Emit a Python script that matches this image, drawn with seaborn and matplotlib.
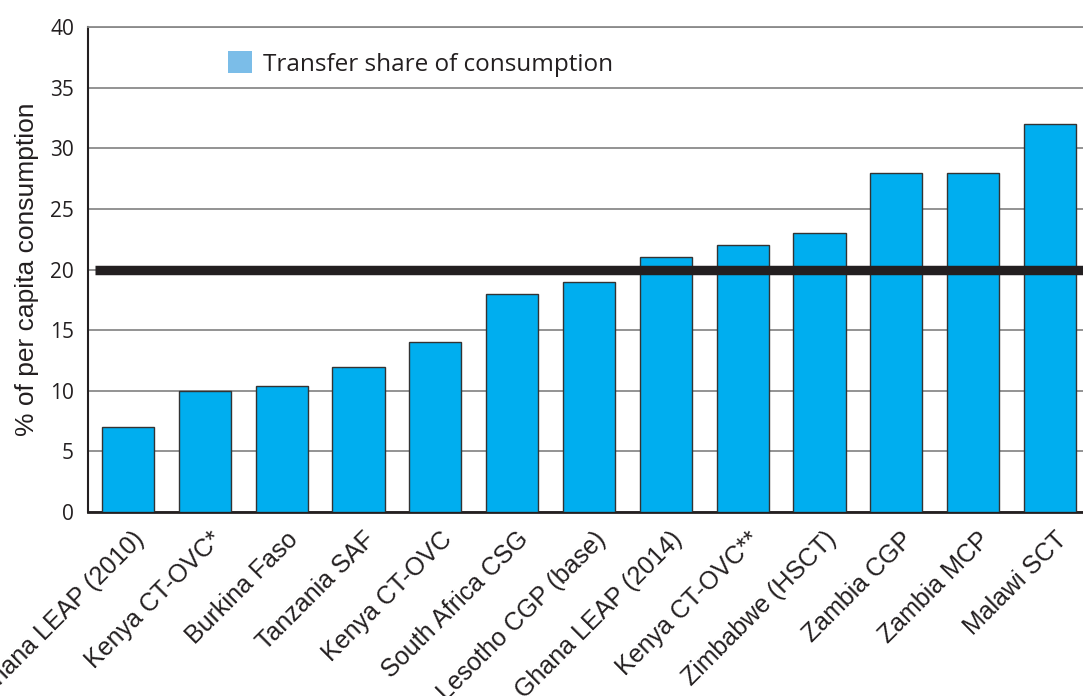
import numpy as np
import pandas as pd
import matplotlib
matplotlib.use('Agg')
import matplotlib.pyplot as plt
import matplotlib.transforms as mtransforms
import seaborn as sns
from matplotlib.patches import Patch

programmes = ['Ghana LEAP (2010)', 'Kenya CT-OVC*', 'Burkina Faso', 'Tanzania SAF',
              'Kenya CT-OVC', 'South Africa CSG', 'Lesotho CGP (base)', 'Ghana LEAP (2014)',
              'Kenya CT-OVC**', 'Zimbabwe (HSCT)', 'Zambia CGP', 'Zambia MCP', 'Malawi SCT']
transfer_share = [7, 10, 10.4, 12, 14, 18, 19, 21, 22, 23, 28, 28, 32]
benchmark = 20
y_ticks = [0, 5, 10, 15, 20, 25, 30, 35, 40]

df = pd.DataFrame({'programme': programmes, 'share': transfer_share})

sns.set_style('white')
plt.rcParams['font.family'] = ['Liberation Sans', 'DejaVu Sans']

fig = plt.figure(figsize=(10.83, 6.96), dpi=100)
ax = fig.add_axes([88 / 1083, 1 - 512 / 696, 1002 / 1083, 485 / 696])

sns.barplot(data=df, x='programme', y='share', color='#00aeef', saturation=1,
            width=0.68, edgecolor='#333333', linewidth=1.0, ax=ax, zorder=3)

ax.axhline(benchmark, xmin=0.007, xmax=1, color='#231f20', lw=6.8,
           solid_capstyle='butt', zorder=4)

ax.set_ylim(0, 40)
ax.set_xlim(-0.52, 12.52)
ax.set_yticks(y_ticks)
ax.yaxis.grid(True, color='#8a8a8a', lw=1.3, zorder=0)
ax.set_axisbelow(True)
for lbl in ax.get_yticklabels():
    lbl.set_family(['Open Sans', 'DejaVu Sans'])
ax.tick_params(axis='y', length=0, labelsize=15, pad=10, labelcolor='#231f20')
ax.tick_params(axis='x', length=0, labelsize=18, pad=12, labelcolor='#231f20')
shift = mtransforms.ScaledTranslation(0.13, -0.07, fig.dpi_scale_trans)
for lbl in ax.get_xticklabels():
    lbl.set_rotation(45)
    lbl.set_ha('right')
    lbl.set_va('center')
    lbl.set_rotation_mode('anchor')
    lbl.set_transform(lbl.get_transform() + shift)

ax.set_xlabel('')
ax.set_ylabel('% of per capita consumption', fontsize=19, color='#231f20', labelpad=8)

ax.spines['right'].set_visible(False)
ax.spines['top'].set_color('#8a8a8a')
ax.spines['top'].set_linewidth(1.3)
ax.spines['left'].set_color('#231f20')
ax.spines['left'].set_linewidth(1.5)
ax.spines['bottom'].set_color('#231f20')
ax.spines['bottom'].set_linewidth(2.0)

handle = Patch(facecolor='#7bbde8', edgecolor='none')
ax.legend([handle], ['Transfer share of consumption'], loc='upper left',
          bbox_to_anchor=(0.118, 0.995), frameon=False, handlelength=1.0, handleheight=1.0,
          handletextpad=0.45, prop={'family': ['Open Sans', 'DejaVu Sans'], 'size': 17.5},
          labelcolor='#231f20')

fig.savefig('out.png', dpi=100)
